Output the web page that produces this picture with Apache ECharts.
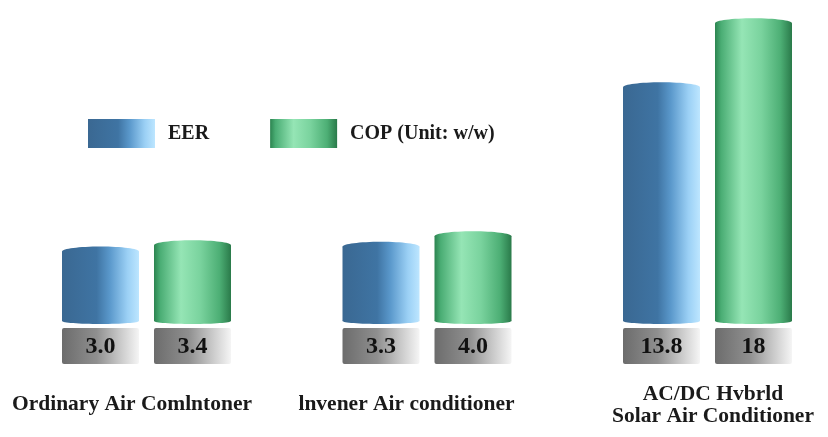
<!DOCTYPE html>
<html><head><meta charset="utf-8">
<script src="https://cdn.jsdelivr.net/npm/echarts@6/dist/echarts.min.js"></script>
<style>html,body{margin:0;padding:0;background:#fff}#chart{width:828px;height:437px}</style>
</head><body><div id="chart"></div>
<script>
// Energy-efficiency ratios of three air-conditioner types
const categories = ['Ordinary Air Comlntoner', 'lnvener Air conditioner', 'AC/DC Hvbrld\nSolar Air Conditioner'];
const eerLabels = ['3.0', '3.3', '13.8'];
const copLabels = ['3.4', '4.0', '18'];
const seriesNames = ['EER', 'COP (Unit: w/w)'];
const eerValues = eerLabels.map(Number);
const copValues = copLabels.map(Number);

const SERIF = '"Liberation Serif", "Times New Roman", serif';
const Y_MIN = -4.8, Y_MAX = 19.2;
const BAR_W = 77, HALF = BAR_W / 2, DOME = 5, PLATE_H = 36, PLATE_GAP = 4;

function lg(stops) {
  return new echarts.graphic.LinearGradient(0, 0, 1, 0, stops.map(([o, c]) => ({ offset: o, color: c })));
}
const blueFill = lg([[0, '#3a6892'], [0.45, '#3f74a3'], [0.62, '#5a98cb'], [0.85, '#9bd0f5'], [1, '#bde6ff']]);
const greenFill = lg([[0, '#2c8450'], [0.08, '#4aad74'], [0.35, '#95e5b5'], [0.6, '#7ad39e'], [0.85, '#4daf75'], [1, '#2a7a4a']]);
const grayFill = lg([[0, '#6c6c6c'], [0.45, '#8f8f8f'], [0.75, '#c8c8c8'], [1, '#f5f5f5']]);

// Cylinder body with a domed top, sitting on a gray value plate
function cylinder(offset, fill, labels) {
  return function (params, api) {
    const i = api.value(0);
    const top = api.coord([i, api.value(1)]);
    const base = api.coord([i, Y_MIN]);
    const cx = top[0] + offset;
    const x = cx - HALF;
    const plateTop = base[1] - PLATE_H - 1;
    const bodyBottom = plateTop - PLATE_GAP;
    const domeY = top[1] + DOME;
    return {
      type: 'group', children: [
        { type: 'rect', shape: { x: x, y: domeY, width: BAR_W, height: bodyBottom - 3 - domeY }, style: { fill: fill } },
        { type: 'ellipse', shape: { cx: cx, cy: bodyBottom - 3, rx: HALF, ry: 3 }, style: { fill: fill } },
        { type: 'ellipse', shape: { cx: cx, cy: domeY, rx: HALF, ry: DOME }, style: { fill: fill } },
        { type: 'rect', shape: { x: x, y: plateTop, width: BAR_W, height: PLATE_H, r: 2 }, style: { fill: grayFill } },
        { type: 'text', style: { x: cx, y: plateTop + PLATE_H / 2 + 1, text: labels[params.dataIndex], align: 'center', verticalAlign: 'middle', font: 'bold 24px ' + SERIF, fill: '#111' } }
      ]
    };
  };
}

const chart = echarts.init(document.getElementById('chart'), null, { renderer: 'canvas' });
chart.setOption({
  animation: false,
  backgroundColor: '#fff',
  grid: { left: 6.25, right: -19.75, top: 0, bottom: 72, outerBoundsMode: 'none', containLabel: false },
  legend: {
    data: seriesNames, icon: 'rect', left: 83, top: 114, itemWidth: 67, itemHeight: 29, itemGap: 61,
    textStyle: { fontFamily: SERIF, fontWeight: 'bold', fontSize: 20, color: '#1a1a1a', padding: [0, 0, 0, 8] }
  },
  xAxis: {
    type: 'category',
    data: [
      { value: categories[0], textStyle: { padding: [10, 29, 0, 0] } },
      { value: categories[1], textStyle: { padding: [10, 41, 0, 0] } },
      { value: categories[2], textStyle: { padding: [0, 0, 0, 11] } }
    ],
    axisLine: { show: false }, axisTick: { show: false }, splitLine: { show: false },
    axisLabel: { margin: 18, interval: 0, fontFamily: SERIF, fontWeight: 'bold', fontSize: 21.5, lineHeight: 22, color: '#1a1a1a' }
  },
  yAxis: { type: 'value', min: Y_MIN, max: Y_MAX, show: false },
  series: [
    { name: seriesNames[0], type: 'custom', itemStyle: { color: blueFill }, encode: { x: 0, y: 1 },
      data: eerValues.map((v, i) => [i, v]), renderItem: cylinder(-46, blueFill, eerLabels) },
    { name: seriesNames[1], type: 'custom', itemStyle: { color: greenFill }, encode: { x: 0, y: 1 },
      data: copValues.map((v, i) => [i, v]), renderItem: cylinder(46, greenFill, copLabels) }
  ]
});
</script>
</body></html>
